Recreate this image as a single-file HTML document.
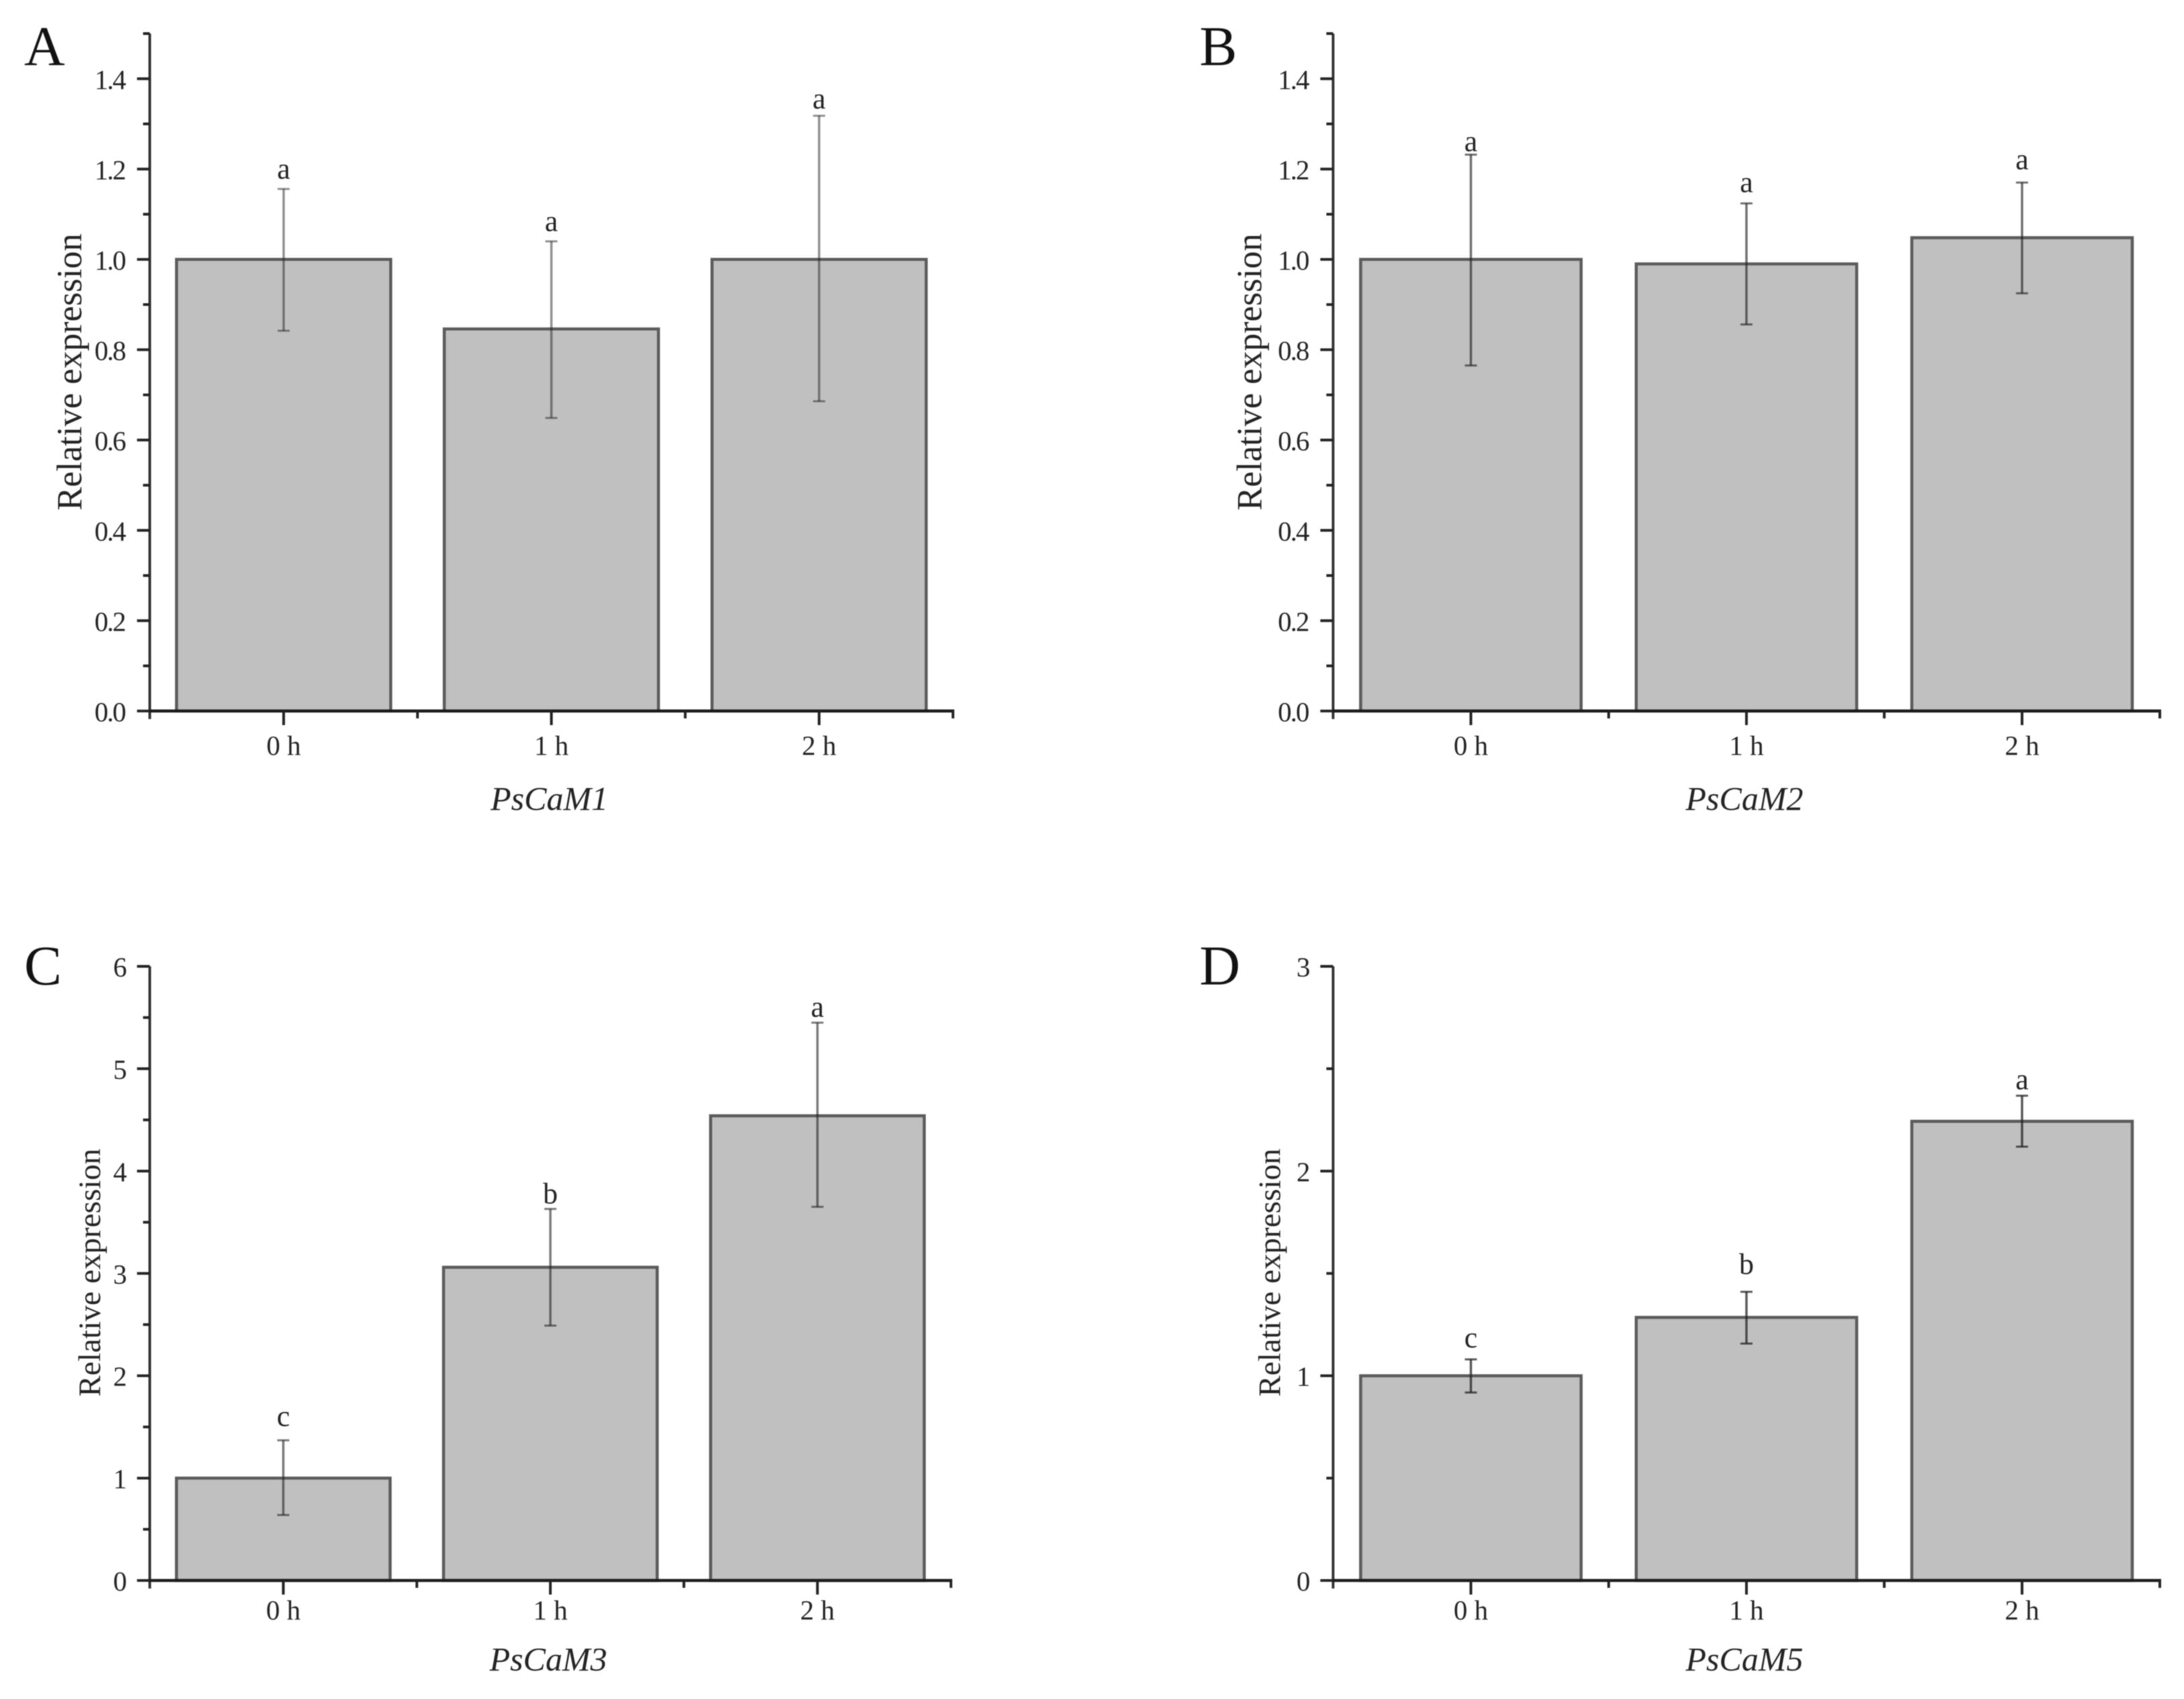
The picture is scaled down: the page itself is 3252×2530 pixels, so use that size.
<!DOCTYPE html>
<html lang="en">
<head>
<meta charset="utf-8">
<title>PsCaM relative expression</title>
<style>
html,body{margin:0;padding:0;background:#fff;width:3252px;height:2530px;overflow:hidden}
svg{display:block;filter:blur(0.9px)}
text{font-family:"Liberation Serif","Times New Roman",serif;fill:#222}
</style>
</head>
<body>
<svg id="figure" xmlns="http://www.w3.org/2000/svg" width="3252" height="2530" viewBox="0 0 3252 2530"></svg>
<script>
const timeCategories = ['0 h', '1 h', '2 h'];

const valuesA = [1.0, 0.846, 1.0];
const errUpperA = [1.156, 1.04, 1.318];
const errLowerA = [0.842, 0.649, 0.686];
const lettersA = ['a', 'a', 'a'];
const letterLevelA = [1.179, 1.063, 1.334];
const majorTicksA = [0, 0.2, 0.4, 0.6, 0.8, 1.0, 1.2, 1.4];
const minorTicksA = [0.1, 0.3, 0.5, 0.7, 0.9, 1.1, 1.3, 1.5];
const tickLabelsA = ['0.0', '0.2', '0.4', '0.6', '0.8', '1.0', '1.2', '1.4'];

const valuesB = [1.0, 0.99, 1.048];
const errUpperB = [1.232, 1.124, 1.17];
const errLowerB = [0.765, 0.856, 0.925];
const lettersB = ['a', 'a', 'a'];
const letterLevelB = [1.24, 1.149, 1.2];
const majorTicksB = [0, 0.2, 0.4, 0.6, 0.8, 1.0, 1.2, 1.4];
const minorTicksB = [0.1, 0.3, 0.5, 0.7, 0.9, 1.1, 1.3, 1.5];
const tickLabelsB = ['0.0', '0.2', '0.4', '0.6', '0.8', '1.0', '1.2', '1.4'];

const valuesC = [1.0, 3.06, 4.54];
const errUpperC = [1.37, 3.63, 5.45];
const errLowerC = [0.64, 2.49, 3.65];
const lettersC = ['c', 'b', 'a'];
const letterLevelC = [1.51, 3.685, 5.508];
const majorTicksC = [0, 1, 2, 3, 4, 5, 6];
const minorTicksC = [0.5, 1.5, 2.5, 3.5, 4.5, 5.5];
const tickLabelsC = ['0', '1', '2', '3', '4', '5', '6'];

const valuesD = [1.0, 1.285, 2.243];
const errUpperD = [1.08, 1.41, 2.368];
const errLowerD = [0.918, 1.157, 2.119];
const lettersD = ['c', 'b', 'a'];
const letterLevelD = [1.138, 1.498, 2.4];
const majorTicksD = [0, 1, 2, 3];
const minorTicksD = [0.5, 1.5, 2.5];
const tickLabelsD = ['0', '1', '2', '3'];

const NS = 'http://www.w3.org/2000/svg';
const figure = document.getElementById('figure');

function mk(parent, tag, attrs, content) {
  const el = document.createElementNS(NS, tag);
  for (const k in attrs) el.setAttribute(k, attrs[k]);
  if (content !== undefined) el.textContent = content;
  parent.appendChild(el);
  return el;
}

function drawPanel(p) {
  const g = mk(figure, 'g', {});
  
  

  const y = v => p.y0 - (v / p.yMax) * (p.y0 - p.yTop);
  const step = (p.xRight - p.xLeft) / p.categories.length;
  const x = i => p.xLeft + step * (i + 0.5);
  const barW = step * 0.8;

  const letter = mk(g, 'text', {x: p.letterX, y: p.letterY, 'font-size': 84, style: 'fill:#111'}, p.id);
  
  

  p.values.forEach((v, i) => {
    const bar = mk(g, 'rect', {
      x: x(i) - barW / 2, y: y(v), width: barW, height: p.y0 - y(v),
      fill: '#c0c0c0', stroke: '#5a5a5a', 'stroke-width': 4.5
    });
    
    
  });

  p.values.forEach((v, i) => {
    const eg = mk(g, 'g', {stroke: '#222', 'stroke-opacity': p.errOpacity, fill: 'none'});
    
    
    mk(eg, 'line', {x1: x(i), x2: x(i), y1: y(p.errUpper[i]), y2: y(p.errLower[i]), 'stroke-width': 3.5});
    mk(eg, 'line', {x1: x(i) - 9, x2: x(i) + 9, y1: y(p.errUpper[i]), y2: y(p.errUpper[i]), 'stroke-width': 3});
    mk(eg, 'line', {x1: x(i) - 9, x2: x(i) + 9, y1: y(p.errLower[i]), y2: y(p.errLower[i]), 'stroke-width': 3});

    const sig = mk(g, 'text', {x: x(i), y: y(p.letterLevel[i]), 'font-size': 44, 'text-anchor': 'middle'}, p.letters[i]);
    
    
  });

  const axisY = mk(g, 'line', {x1: p.xLeft, x2: p.xLeft, y1: p.yTop, y2: p.y0 + 12, stroke: '#333', 'stroke-width': 4});
  
  

  const axisX = mk(g, 'line', {x1: p.xLeft - 2, x2: p.xRight + 2, y1: p.y0, y2: p.y0, stroke: '#1a1a1a', 'stroke-width': 4.5});
  
  

  p.majorTicks.forEach((t, i) => {
    const tick = mk(g, 'line', {x1: p.xLeft - 19, x2: p.xLeft, y1: y(t), y2: y(t), stroke: '#222', 'stroke-width': 4});
    
    
    const lab = mk(g, 'text', {x: p.xLeft - p.tickGap, y: y(t) + 15, 'font-size': 41, 'text-anchor': 'end', 'letter-spacing': p.tickSpacing}, p.tickLabels[i]);
    
    
  });
  p.minorTicks.forEach(t => {
    const tick = mk(g, 'line', {x1: p.xLeft - 10, x2: p.xLeft, y1: y(t), y2: y(t), stroke: '#222', 'stroke-width': 4});
    
    
  });

  p.categories.forEach((c, i) => {
    const tick = mk(g, 'line', {x1: x(i), x2: x(i), y1: p.y0, y2: p.y0 + 21, stroke: '#222', 'stroke-width': 4});
    
    
    const minor = mk(g, 'line', {x1: x(i) + step / 2, x2: x(i) + step / 2, y1: p.y0, y2: p.y0 + 11, stroke: '#222', 'stroke-width': 4});
    
    
    const lab = mk(g, 'text', {x: x(i), y: p.y0 + p.xTickDrop, 'font-size': 41, 'text-anchor': 'middle'}, c);
    
    
  });

  const xt = mk(g, 'text', {x: (p.xLeft + p.xRight) / 2 - 3, y: p.y0 + p.xTitleDrop, 'font-size': 50, 'font-style': 'italic', 'text-anchor': 'middle'}, p.gene);
  
  

  const yt = mk(g, 'text', {
    transform: 'translate(' + p.yTitleX + ',' + p.yTitleY + ') rotate(-90)',
    'font-size': p.yTitleSize, 'text-anchor': 'middle'
  }, 'Relative expression');
  
  
}

drawPanel({id: 'A', gene: 'PsCaM1', categories: timeCategories, values: valuesA, errUpper: errUpperA, errLower: errLowerA,
  letters: lettersA, letterLevel: letterLevelA, majorTicks: majorTicksA, minorTicks: minorTicksA, tickLabels: tickLabelsA,
  xLeft: 223, xRight: 1419, y0: 1058.8, yTop: 50, yMax: 1.5, letterX: 36, letterY: 97,
  yTitleX: 121, yTitleY: 554, yTitleSize: 52.5, errOpacity: 0.5, tickSpacing: -2, tickGap: 37, xTickDrop: 65, xTitleDrop: 147});

drawPanel({id: 'B', gene: 'PsCaM2', categories: timeCategories, values: valuesB, errUpper: errUpperB, errLower: errLowerB,
  letters: lettersB, letterLevel: letterLevelB, majorTicks: majorTicksB, minorTicks: minorTicksB, tickLabels: tickLabelsB,
  xLeft: 1985, xRight: 3216, y0: 1058.8, yTop: 50, yMax: 1.5, letterX: 1786, letterY: 97,
  yTitleX: 1878, yTitleY: 554, yTitleSize: 52.5, errOpacity: 0.65, tickSpacing: -2, tickGap: 37, xTickDrop: 65, xTitleDrop: 147});

drawPanel({id: 'C', gene: 'PsCaM3', categories: timeCategories, values: valuesC, errUpper: errUpperC, errLower: errLowerC,
  letters: lettersC, letterLevel: letterLevelC, majorTicks: majorTicksC, minorTicks: minorTicksC, tickLabels: tickLabelsC,
  xLeft: 223, xRight: 1416, y0: 2353.5, yTop: 1439, yMax: 6, letterX: 36, letterY: 1466,
  yTitleX: 149, yTitleY: 1895, yTitleSize: 47, errOpacity: 0.6, tickSpacing: 0, tickGap: 34, xTickDrop: 58, xTitleDrop: 134});

drawPanel({id: 'D', gene: 'PsCaM5', categories: timeCategories, values: valuesD, errUpper: errUpperD, errLower: errLowerD,
  letters: lettersD, letterLevel: letterLevelD, majorTicks: majorTicksD, minorTicks: minorTicksD, tickLabels: tickLabelsD,
  xLeft: 1985, xRight: 3216, y0: 2353.5, yTop: 1439, yMax: 3, letterX: 1786, letterY: 1466,
  yTitleX: 1906, yTitleY: 1895, yTitleSize: 47, errOpacity: 0.75, tickSpacing: 0, tickGap: 34, xTickDrop: 58, xTitleDrop: 134});
</script>
</body>
</html>
